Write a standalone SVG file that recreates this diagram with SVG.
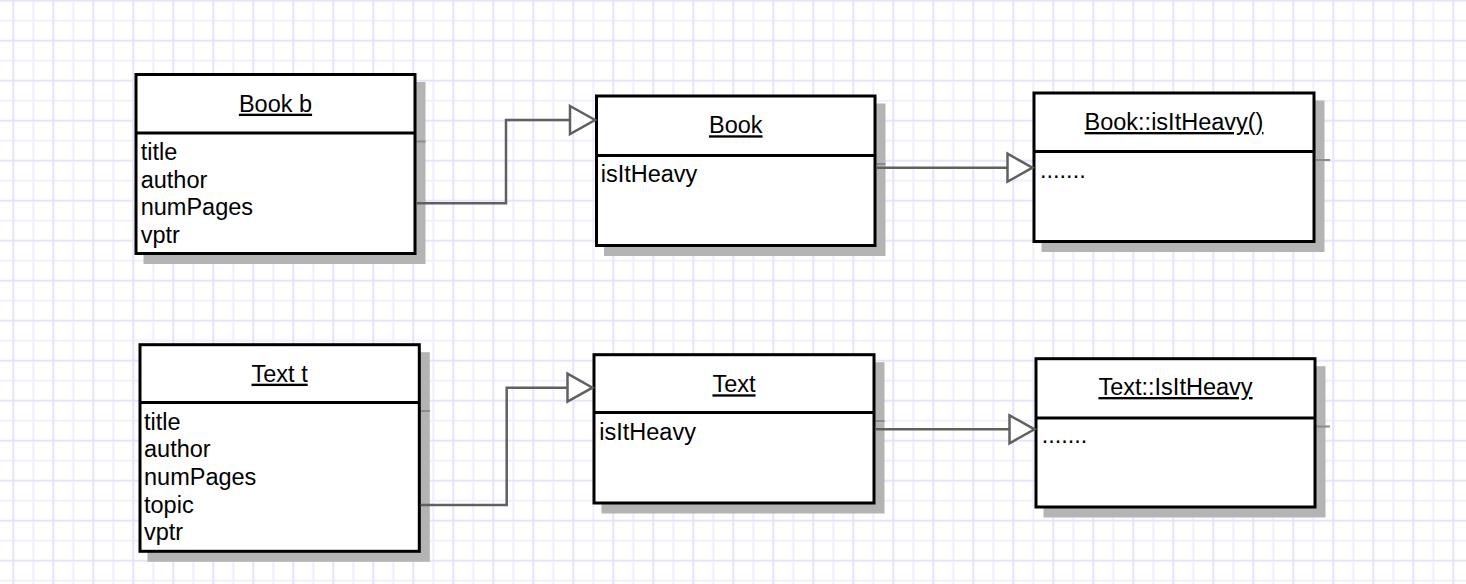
<svg xmlns="http://www.w3.org/2000/svg" width="1466" height="584" viewBox="0 0 1466 584">
  <defs>
    <pattern id="grid" patternUnits="userSpaceOnUse" x="3.3" y="-9.3" width="40" height="40">
      <line x1="30" y1="0" x2="30" y2="40" stroke="#f1effd" stroke-width="2"/>
      <line x1="0" y1="30" x2="40" y2="30" stroke="#f1effd" stroke-width="2"/>
      <line x1="10" y1="0" x2="10" y2="40" stroke="#e7e3fb" stroke-width="2"/>
      <line x1="0" y1="10" x2="40" y2="10" stroke="#e7e3fb" stroke-width="2"/>
    </pattern>
    <marker id="tri" markerUnits="userSpaceOnUse" markerWidth="34" markerHeight="36" refX="27" refY="16" orient="auto" overflow="visible">
      <path d="M2,2 L27,16 L2,30 Z" fill="#ffffff" stroke="#606060" stroke-width="2.5" stroke-linejoin="miter"/>
    </marker>
    <style>
      .shadow { fill: #b4b4b4; }
      .sline { stroke: #8a8a8a; stroke-width: 2; }
      .box { fill: #ffffff; stroke: #000000; stroke-width: 3; }
      .div { stroke: #000000; stroke-width: 3; }
      .title { font-family: "Liberation Sans", Arial, sans-serif; font-size: 23.5px; fill: #000; text-anchor: middle; text-decoration: underline; }
      .attr { font-family: "Liberation Sans", Arial, sans-serif; font-size: 23.5px; fill: #000; }
      .conn { fill: none; stroke: #606060; stroke-width: 2.5; marker-end: url(#tri); }
    </style>
  </defs>
  <rect x="0" y="0" width="1466" height="584" fill="#ffffff"/>
  <rect x="0" y="0" width="1466" height="584" fill="url(#grid)"/>

  <g id="book-b">
    <rect class="shadow" x="143.5" y="82" width="282" height="182"/>
    <line class="sline" x1="416.5" y1="141.5" x2="425.5" y2="141.5"/>
    <rect class="box" x="136" y="74.5" width="279" height="179"/>
    <line class="div" x1="136" y1="133" x2="415" y2="133"/>
    <text class="title" x="275.5" y="111.7">Book b</text>
    <text class="attr" x="140.7" y="160.3">title</text>
    <text class="attr" x="140.7" y="187.8">author</text>
    <text class="attr" x="140.7" y="215.3">numPages</text>
    <text class="attr" x="140.7" y="242.8">vptr</text>
  </g>

  <g id="book">
    <rect class="shadow" x="604" y="103.5" width="281.5" height="152.5"/>
    <line class="sline" x1="876.5" y1="164" x2="885.5" y2="164"/>
    <rect class="box" x="596.5" y="96" width="278.5" height="149.5"/>
    <line class="div" x1="596.5" y1="155.5" x2="875" y2="155.5"/>
    <text class="title" x="735.75" y="133.3">Book</text>
    <text class="attr" x="600.7" y="181.7">isItHeavy</text>
  </g>

  <g id="book-isitheavy">
    <rect class="shadow" x="1041.5" y="100.5" width="283" height="151.5"/>
    <line class="sline" x1="1315.5" y1="160" x2="1330" y2="160"/>
    <rect class="box" x="1034" y="93" width="280" height="148.5"/>
    <line class="div" x1="1034" y1="151.5" x2="1314" y2="151.5"/>
    <text class="title" x="1174" y="130">Book::isItHeavy()</text>
    <text class="attr" x="1040" y="177.7">.......</text>
  </g>

  <g id="text-t">
    <rect class="shadow" x="147.5" y="352.2" width="282.3" height="209.6"/>
    <line class="sline" x1="420.8" y1="411" x2="429.8" y2="411"/>
    <rect class="box" x="140" y="344.7" width="279.3" height="206.6"/>
    <line class="div" x1="140" y1="402.5" x2="419.3" y2="402.5"/>
    <text class="title" x="279.6" y="381.7">Text t</text>
    <text class="attr" x="144" y="429.5">title</text>
    <text class="attr" x="144" y="457.2">author</text>
    <text class="attr" x="144" y="484.9">numPages</text>
    <text class="attr" x="144" y="512.6">topic</text>
    <text class="attr" x="144" y="540.3">vptr</text>
  </g>

  <g id="text">
    <rect class="shadow" x="601.5" y="362.2" width="283" height="151.3"/>
    <line class="sline" x1="875.5" y1="421" x2="884.5" y2="421"/>
    <rect class="box" x="594" y="354.7" width="280" height="148.3"/>
    <line class="div" x1="594" y1="412.5" x2="874" y2="412.5"/>
    <text class="title" x="734" y="392.3">Text</text>
    <text class="attr" x="599.3" y="440">isItHeavy</text>
  </g>

  <g id="text-isitheavy">
    <rect class="shadow" x="1043.5" y="366.2" width="282" height="151.3"/>
    <line class="sline" x1="1316.5" y1="426.5" x2="1330" y2="426.5"/>
    <rect class="box" x="1036" y="358.7" width="279" height="148.3"/>
    <line class="div" x1="1036" y1="418" x2="1315" y2="418"/>
    <text class="title" x="1175.5" y="395">Text::IsItHeavy</text>
    <text class="attr" x="1041.7" y="442.7">.......</text>
  </g>

  <g id="connectors">
    <path class="conn" d="M416.5 203.3 H506 V120 H595"/>
    <path class="conn" d="M876.5 167.7 H1032.5"/>
    <path class="conn" d="M420.8 505 H506.7 V387.7 H592.5"/>
    <path class="conn" d="M875.5 429.3 H1034.5"/>
  </g>
</svg>
